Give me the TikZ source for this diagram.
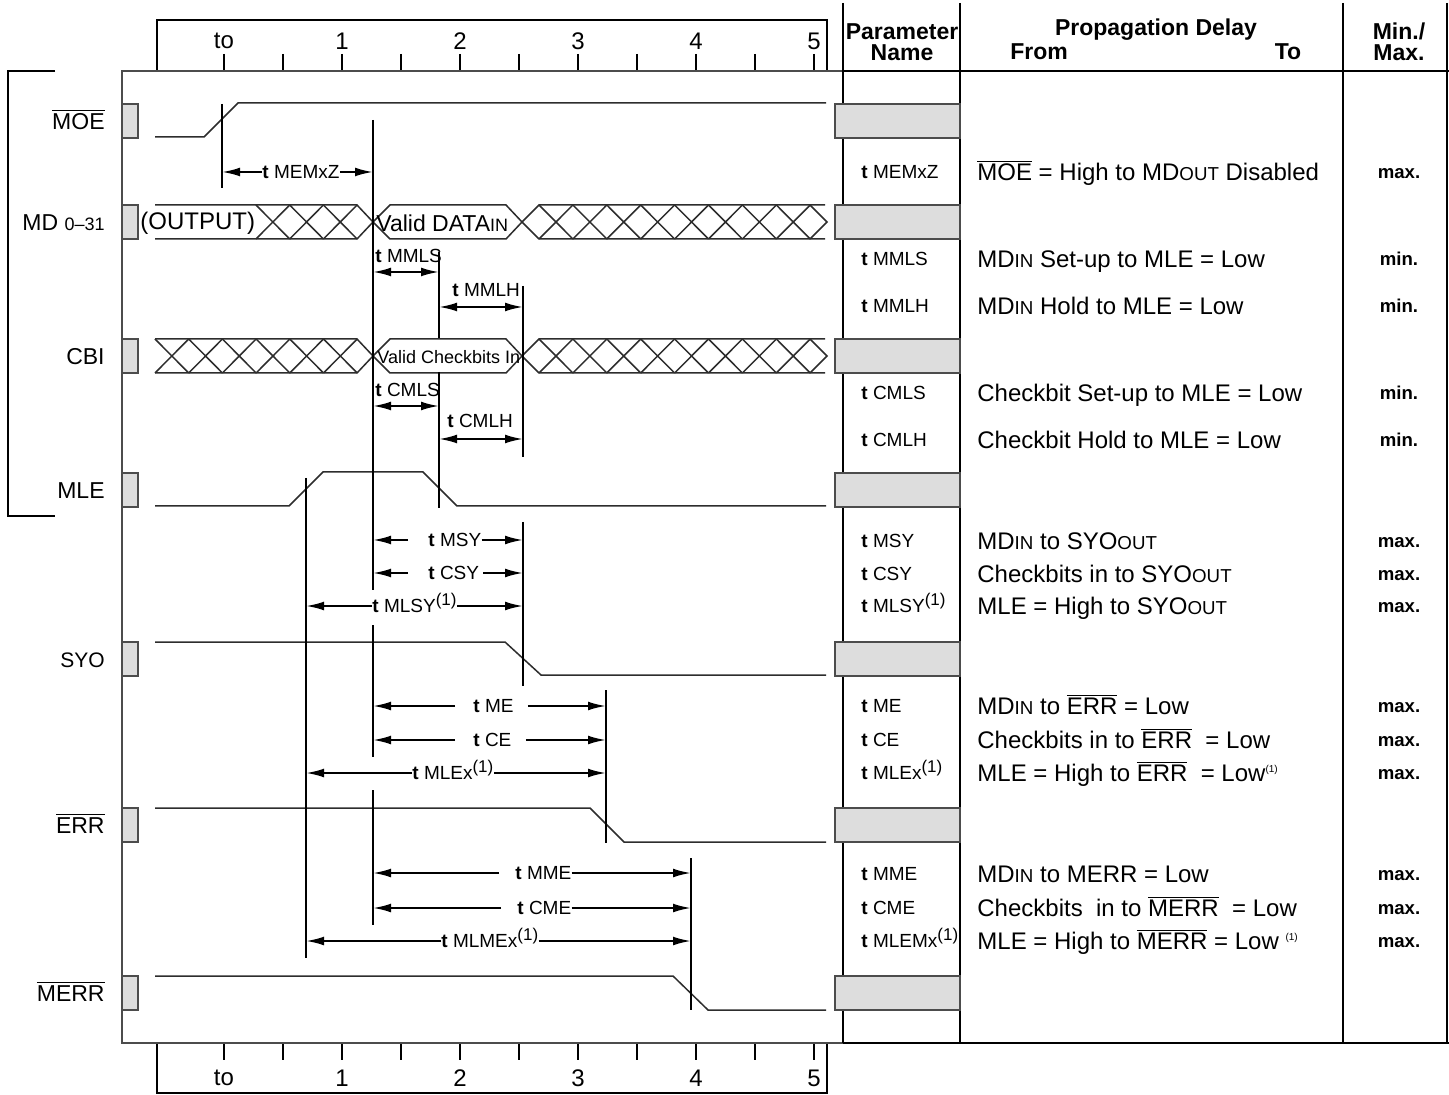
\documentclass[tikz,border=0pt]{standalone}
\usepackage{fontspec}
\setmainfont{Liberation Sans}
\usetikzlibrary{arrows.meta}
\definecolor{PinGray}{RGB}{221,221,221}
\definecolor{WaveGray}{RGB}{45,45,45}
\newcommand{\smc}[1]{\scalebox{0.78}{#1}}
\newcommand{\ovl}[1]{$\overline{\mbox{#1}}$}
\newcommand{\fnote}{\raisebox{0.75ex}{\fontsize{8.5}{9}\selectfont(1)}}

\begin{document}
\begin{tikzpicture}[x=0.5pt, y=-0.5pt,
      waveline/.style={draw=WaveGray, line width=0.75pt},
      markline/.style={line width=1.25pt},
      boxline/.style={draw=black!70, line width=0.75pt},
      rulerline/.style={line width=1.1pt},
      tablerule/.style={line width=1.25pt},
      pinbox/.style={draw=black!70, fill=PinGray, line width=0.75pt},
      dimarr/.style={-{Latex[length=9pt,width=4.4pt]}, line width=1pt},
      dimboth/.style={{Latex[length=9pt,width=4.4pt]}-{Latex[length=9pt,width=4.4pt]}, line width=1pt},
      tlab/.style={font=\fontsize{9.5}{10}\selectfont, anchor=west, inner sep=0pt,
                   text height=6.8pt, text depth=0pt},
      siglbl/.style={font=\fontsize{11.5}{12}\selectfont, anchor=east, inner sep=0pt,
                     text height=8.2pt, text depth=0pt},
      desc/.style={font=\fontsize{12}{13}\selectfont, anchor=west, inner sep=0pt,
                   text height=8.6pt, text depth=0pt},
      minmax/.style={font=\fontsize{9.3}{10}\bfseries\selectfont, inner sep=0pt,
                     text height=6.6pt, text depth=0pt},
      head/.style={font=\fontsize{11.5}{10.5}\bfseries\selectfont, inner sep=0pt},
      rulelbl/.style={font=\fontsize{12}{13}\selectfont, inner sep=0pt}
    ]
    \fill[white] (0,0) rectangle (1449,1095);
    \useasboundingbox (0,0) rectangle (1449,1095);

    % Time rulers
    \draw[rulerline] (157,71) -- (157,20) -- (827,20) -- (827,71);
    \draw[rulerline] (157,1043) -- (157,1093) -- (827,1093) -- (827,1043);
    \foreach \x in {224,283,...,814} {
      \draw[rulerline] (\x,54) -- (\x,71);
      \draw[rulerline] (\x,1043) -- (\x,1060);
    }
    \foreach \x/\t in {224/to,342/1,460/2,578/3,696/4,814/5} {
      \node[rulelbl] (top\t) at (\x,41) {\t};
      \node[rulelbl] (bot\t) at (\x,1078) {\t};
    }

    % Frame, bracket and table rules
    \draw[boxline] (843,71) -- (122,71) -- (122,1043) -- (843,1043);
    \draw[rulerline] (55,71) -- (8,71) -- (8,516) -- (55,516);
    \draw[tablerule] (843,71) -- (1449,71);
    \draw[tablerule] (843,1043) -- (1449,1043);
    \foreach \x in {843,960,1343,1447}
      \draw[tablerule] (\x,3) -- (\x,1043);

    % Pin boxes
    \foreach \y in {104,205,339,473,642,808,976} {
      \draw[pinbox] (122,\y) rectangle (138,{\y+34});
      \draw[pinbox] (835,\y) rectangle (960,{\y+34});
    }

    % Signal names
    \node[siglbl] (nMOE)  at (105,121) {\ovl{MOE}};
    \node[siglbl] (nMD)   at (105,222) {MD {\fontsize{9}{9}\selectfont 0--31}};
    \node[siglbl] (nCBI)  at (105,356) {CBI};
    \node[siglbl] (nMLE)  at (105,490) {MLE};
    \node[siglbl, font=\fontsize{10.5}{11}\selectfont] (nSYO) at (105,659) {SYO};
    \node[siglbl] (nERR)  at (105,825) {\ovl{ERR}};
    \node[siglbl] (nMERR) at (105,993) {\ovl{MERR}};

    % Waveforms
    \draw[waveline] (155,137) -- (204,137) -- (238,103) -- (826,103);
    \draw[waveline] (155,506) -- (289,506) -- (323,472) -- (423,472) -- (457,506) -- (826,506);
    \draw[waveline] (155,642) -- (505,642) -- (541,675) -- (826,675);
    \draw[waveline] (155,808) -- (590,808) -- (624,842) -- (826,842);
    \draw[waveline] (155,976) -- (673,976) -- (708,1010) -- (826,1010);

    % MD bus
    \draw[waveline] (155,205) -- (357,205) -- (373,222) -- (357,239) -- (155,239);
    \foreach \k in {0,1,2}
      \draw[waveline] ({256+33.7*\k},205) -- ({289.7+33.7*\k},239)
                      ({256+33.7*\k},239) -- ({289.7+33.7*\k},205);
    \draw[waveline] (373,222) -- (390,205) -- (506,205) -- (522,222) -- (506,239) -- (390,239) -- cycle;
    \draw[waveline] (825,205) -- (539,205) -- (522,222) -- (539,239) -- (825,239);
    \foreach \k in {0,...,7}
      \draw[waveline] ({539+33.9*\k},205) -- ({572.9+33.9*\k},239)
                      ({539+33.9*\k},239) -- ({572.9+33.9*\k},205);
    \draw[waveline] (810,205) -- (827,222) -- (810,239);
    \node[anchor=west, inner sep=0pt, font=\fontsize{12}{13}\selectfont] (mdOut) at (140,223) {(OUTPUT)};
    \node[anchor=west, inner sep=0pt, font=\fontsize{11.5}{12}\selectfont] (mdIn) at (376,223) {Valid DATA\smc{IN}};

    % CBI bus
    \draw[waveline] (155,339) -- (357,339) -- (373,356) -- (357,373) -- (155,373);
    \foreach \k in {0,...,5}
      \draw[waveline] ({155+33.7*\k},339) -- ({188.7+33.7*\k},373)
                      ({155+33.7*\k},373) -- ({188.7+33.7*\k},339);
    \draw[waveline] (373,356) -- (390,339) -- (506,339) -- (522,356) -- (506,373) -- (390,373) -- cycle;
    \draw[waveline] (825,339) -- (539,339) -- (522,356) -- (539,373) -- (825,373);
    \foreach \k in {0,...,7}
      \draw[waveline] ({539+33.9*\k},339) -- ({572.9+33.9*\k},373)
                      ({539+33.9*\k},373) -- ({572.9+33.9*\k},339);
    \draw[waveline] (810,339) -- (827,356) -- (810,373);
    \node[anchor=west, inner sep=0pt, font=\fontsize{9}{10}\selectfont] (cbIn) at (377,357) {Valid Checkbits In};

    % Timing markers
    \coordinate (mA) at (222,0);
    \coordinate (mB) at (373,0);
    \coordinate (mC) at (439,0);
    \coordinate (mD) at (523,0);
    \coordinate (mF) at (306,0);
    \coordinate (mG) at (606,0);
    \coordinate (mH) at (691,0);
    \draw[markline] (mA |- 0,104) -- (mA |- 0,188);
    \draw[markline] (mB |- 0,120) -- (mB |- 0,590);
    \draw[markline] (mB |- 0,625) -- (mB |- 0,757);
    \draw[markline] (mB |- 0,790) -- (mB |- 0,925);
    \draw[markline] (mC |- 0,252) -- (mC |- 0,338);
    \draw[markline] (mC |- 0,372) -- (mC |- 0,508);
    \draw[markline] (mD |- 0,286) -- (mD |- 0,457);
    \draw[markline] (mD |- 0,522) -- (mD |- 0,686);
    \draw[markline] (mF |- 0,478) -- (mF |- 0,958);
    \draw[markline] (mG |- 0,690) -- (mG |- 0,843);
    \draw[markline] (mH |- 0,858) -- (mH |- 0,1010);

    % Delay arrows
    \node[tlab] (lMEMxZ) at (262,172) {\textbf{t} MEMxZ};
    \draw[dimarr] (lMEMxZ.west) -- (lMEMxZ -| mA);
    \draw[dimarr] (lMEMxZ.east) -- (lMEMxZ -| mB);

    \node[tlab] (lMMLS) at (375,256) {\textbf{t} MMLS};
    \coordinate (aMMLS) at (400,272);
    \draw[dimboth] (aMMLS -| mB) -- (aMMLS -| mC);
    \node[tlab] (lMMLH) at (452,290) {\textbf{t} MMLH};
    \coordinate (aMMLH) at (480,307);
    \draw[dimboth] (aMMLH -| mC) -- (aMMLH -| mD);

    \node[tlab] (lCMLS) at (375,390) {\textbf{t} CMLS};
    \coordinate (aCMLS) at (400,406);
    \draw[dimboth] (aCMLS -| mB) -- (aCMLS -| mC);
    \node[tlab] (lCMLH) at (447,421) {\textbf{t} CMLH};
    \coordinate (aCMLH) at (480,439);
    \draw[dimboth] (aCMLH -| mC) -- (aCMLH -| mD);

    \node[tlab] (lMSY) at (428,540) {\textbf{t} MSY};
    \draw[dimarr] ([xshift=-10pt]lMSY.west) -- (lMSY -| mB);
    \draw[dimarr] (lMSY.east) -- (lMSY -| mD);
    \node[tlab] (lCSY) at (428,573) {\textbf{t} CSY};
    \draw[dimarr] ([xshift=-10pt]lCSY.west) -- (lCSY -| mB);
    \draw[dimarr] ([xshift=2pt]lCSY.east) -- (lCSY -| mD);
    \node[tlab] (lMLSY) at (372,606) {\textbf{t} MLSY\fnote};
    \draw[dimarr] (lMLSY.west) -- (lMLSY -| mF);
    \draw[dimarr] (lMLSY.east) -- (lMLSY -| mD);

    \node[tlab] (lME) at (473,706) {\textbf{t} ME};
    \draw[dimarr] ([xshift=-9pt]lME.west) -- (lME -| mB);
    \draw[dimarr] ([xshift=7pt]lME.east) -- (lME -| mG);
    \node[tlab] (lCE) at (473,740) {\textbf{t} CE};
    \draw[dimarr] ([xshift=-9pt]lCE.west) -- (lCE -| mB);
    \draw[dimarr] ([xshift=7pt]lCE.east) -- (lCE -| mG);
    \node[tlab] (lMLEx) at (412,773) {\textbf{t} MLEx\fnote};
    \draw[dimarr] (lMLEx.west) -- (lMLEx -| mF);
    \draw[dimarr] (lMLEx.east) -- (lMLEx -| mG);

    \node[tlab] (lMME) at (515,873) {\textbf{t} MME};
    \draw[dimarr] ([xshift=-8pt]lMME.west) -- (lMME -| mB);
    \draw[dimarr] (lMME.east) -- (lMME -| mH);
    \node[tlab] (lCME) at (517,908) {\textbf{t} CME};
    \draw[dimarr] ([xshift=-8pt]lCME.west) -- (lCME -| mB);
    \draw[dimarr] (lCME.east) -- (lCME -| mH);
    \node[tlab] (lMLMEx) at (441,941) {\textbf{t} MLMEx\fnote};
    \draw[dimarr] (lMLMEx.west) -- (lMLMEx -| mF);
    \draw[dimarr] (lMLMEx.east) -- (lMLMEx -| mH);

    % Table head
    \node[head, align=center] (hParam) at (902,42) {Parameter\\Name};
    \node[head, anchor=base] (hProp) at (1156,36) {Propagation Delay};
    \node[head, anchor=base] (hFrom) at (1039,60) {From};
    \node[head, anchor=base] (hTo) at (1288,60) {To};
    \node[head, align=center] (hMinMax) at (1399,42) {Min./\\Max.};

    % Table rows
    \foreach \y/\p/\d/\m [count=\i] in {
        172/{\textbf{t} MEMxZ}/{\ovl{MOE} = High to MD\smc{OUT} Disabled}/max.,
        259/{\textbf{t} MMLS}/{MD\smc{IN} Set-up to MLE = Low}/min.,
        306/{\textbf{t} MMLH}/{MD\smc{IN} Hold to MLE = Low}/min.,
        393/{\textbf{t} CMLS}/{Checkbit Set-up to MLE = Low}/min.,
        440/{\textbf{t} CMLH}/{Checkbit Hold to MLE = Low}/min.,
        541/{\textbf{t} MSY}/{MD\smc{IN} to SYO\smc{OUT}}/max.,
        574/{\textbf{t} CSY}/{Checkbits in to SYO\smc{OUT}}/max.,
        606/{\textbf{t} MLSY\fnote}/{MLE = High to SYO\smc{OUT}}/max.,
        706/{\textbf{t} ME}/{MD\smc{IN} to \ovl{ERR} = Low}/max.,
        740/{\textbf{t} CE}/{Checkbits in to \ovl{ERR}\ \ = Low}/max.,
        773/{\textbf{t} MLEx\fnote}/{MLE = High to \ovl{ERR}\ \ = Low\textsuperscript{\tiny(1)}}/max.,
        874/{\textbf{t} MME}/{MD\smc{IN} to MERR = Low}/max.,
        908/{\textbf{t} CME}/{Checkbits\ \ in to \ovl{MERR}\ \ = Low}/max.,
        941/{\textbf{t} MLEMx\fnote}/{MLE = High to \ovl{MERR} = Low \textsuperscript{\tiny(1)}}/max.} {
      \node[tlab] (par\i) at (861,\y) {\p};
      \node[desc] (dsc\i) at (977,\y) {\d};
      \node[minmax] (mm\i) at (1399,\y) {\m};
    }
  \end{tikzpicture}
\end{document}
